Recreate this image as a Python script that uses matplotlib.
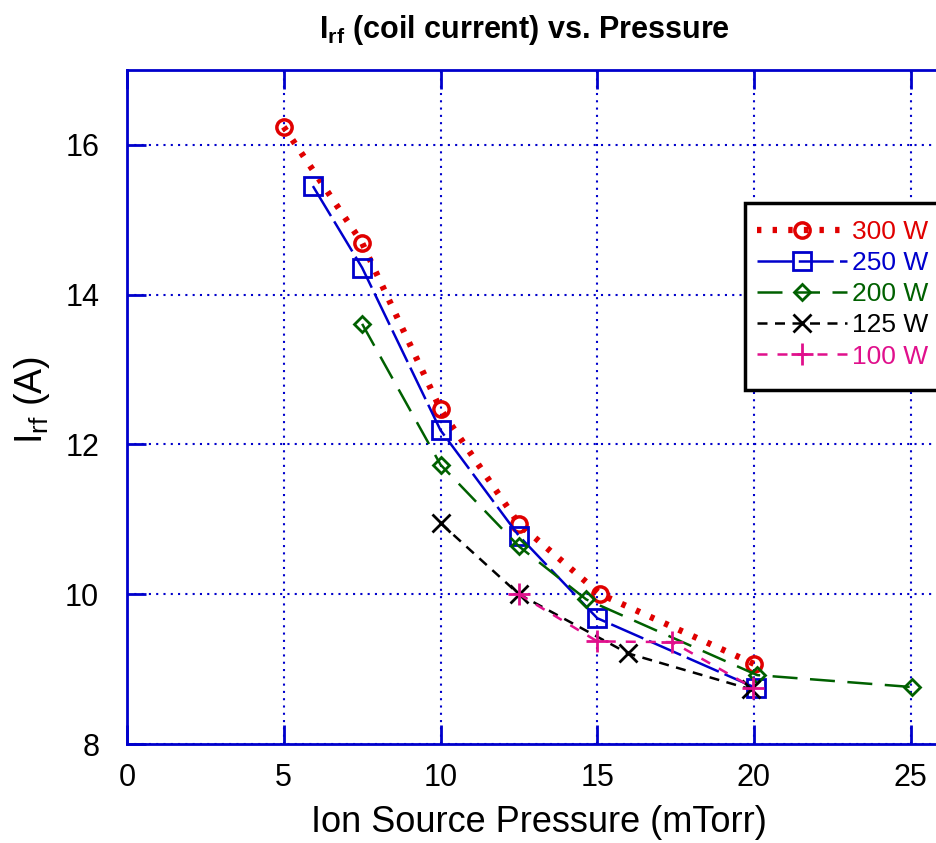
import matplotlib
matplotlib.use("Agg")
import matplotlib.pyplot as plt
from matplotlib.patches import Rectangle

plt.rcParams['font.family'] = ['Liberation Sans', 'DejaVu Sans']
plt.rcParams['mathtext.fontset'] = 'custom'
plt.rcParams['mathtext.rm'] = 'Liberation Sans'
plt.rcParams['mathtext.bf'] = 'Liberation Sans:bold'

# data
p300 = [5.0, 7.5, 10.0, 12.5, 15.1, 20.0]
i300 = [16.24, 14.69, 12.47, 10.94, 10.0, 9.07]
p250 = [5.93, 7.5, 10.0, 12.5, 15.0, 20.05]
i250 = [15.45, 14.36, 12.19, 10.78, 9.68, 8.75]
p200 = [7.5, 10.0, 12.5, 14.65, 20.1, 25.05]
i200 = [13.61, 11.73, 10.64, 9.93, 8.92, 8.76]
p125 = [10.0, 12.5, 15.98, 19.9]
i125 = [10.95, 10.0, 9.21, 8.73]
p100 = [12.5, 15.0, 17.4, 19.97]
i100 = [10.0, 9.37, 9.36, 8.75]

xticks = [0, 5, 10, 15, 20, 25]
yticks = [8, 10, 12, 14, 16]

W, H = 936, 843
fig = plt.figure(figsize=(W/100, H/100), dpi=100)
# axes runs past the right edge of the picture, as in the original crop
ax = fig.add_axes([127/W, 99/H, 26*31.35/W, 674/H])

ax.plot(p300, i300, color='#e00000', linestyle=(0, (0.7, 1.8)), lw=4.5,
        marker='o', ms=11, mfc='none', mec='#e00000', mew=2.5, label='300 W')
ax.plot(p250, i250, color='#0000cc', linestyle=(0, (14, 2.5)), lw=1.8,
        marker='s', ms=13, mfc='none', mec='#0000cc', mew=2, label='250 W')
ax.plot(p200, i200, color='#006000', linestyle=(0, (10, 5)), lw=1.8,
        marker='D', ms=8, mfc='none', mec='#006000', mew=2, label='200 W')
ax.plot(p125, i125, color='black', linestyle=(0, (4, 3)), lw=1.8,
        marker='x', ms=13, mew=2, label='125 W')
ax.plot(p100, i100, color='#e0108c', linestyle=(0, (4, 4)), lw=1.8,
        marker='+', ms=16, mew=2, label='100 W')

ax.set_xlim(0, 26)
ax.set_ylim(8, 17)
ax.set_xticks(xticks)
ax.set_yticks(yticks)
ax.grid(True, color='#0000cc', linestyle=(0, (1, 2.5)), lw=1.5)
for s in ax.spines.values():
    s.set_color('#0000cc')
    s.set_linewidth(2)
ax.spines['right'].set_visible(False)
ax.tick_params(direction='in', length=14, width=2, color='#0000cc',
               labelsize=22, top=True, pad=14)
ax.tick_params(axis='y', pad=20)

fig.text(539/W, 1 - 822/H, 'Ion Source Pressure (mTorr)', fontsize=26,
         ha='center', va='center')
fig.text(32/W, 1 - 400/H, r'I$_{\rm rf}$ (A)', rotation=90, fontsize=27,
         ha='center', va='center')
fig.text(524/W, 1 - 30/H, r'$\mathbf{I}_{\mathbf{rf}}$ (coil current) vs. Pressure',
         fontsize=22, fontweight='bold', ha='center', va='center')

# legend box continues past the right edge
box = Rectangle((745/W, 1 - 390/H), 300/W, 187/H, transform=fig.transFigure,
                fc='white', ec='black', lw=2.5, zorder=4, clip_on=False)
ax.add_patch(box)
leg = ax.legend(loc='upper left', bbox_to_anchor=(757/W, 1 - 220/H),
                bbox_transform=fig.transFigure, fontsize=19, handlelength=3.4,
                frameon=False, borderaxespad=0, borderpad=0,
                labelspacing=0.27, handletextpad=0.2)
leg.set_zorder(6)
for txt, ln in zip(leg.get_texts(), leg.get_lines()):
    txt.set_color(ln.get_color())

fig.savefig('out.png', dpi=100)
